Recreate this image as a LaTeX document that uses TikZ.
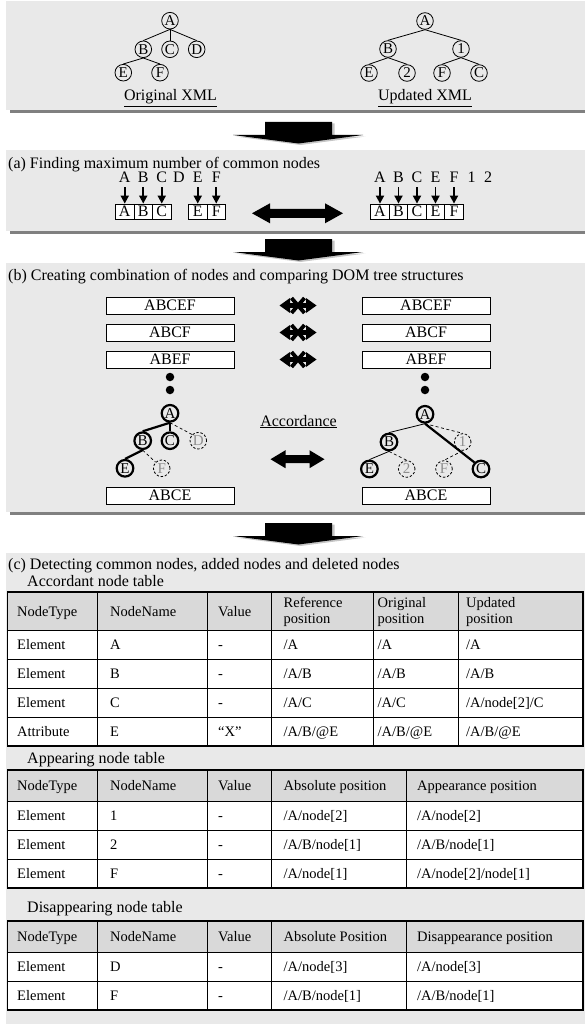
\documentclass[tikz,border=0pt]{standalone}
\usepackage{fontspec}
\setmainfont{Liberation Serif}
\usetikzlibrary{arrows.meta,calc}
\definecolor{panelgray}{HTML}{E9E9E9}
\definecolor{shadowgray}{HTML}{808080}
\definecolor{headgray}{HTML}{D9D9D9}
\definecolor{ghostgray}{HTML}{8E8E8E}
\newcommand\headfont{\fontsize{16}{18}\selectfont}
\newcommand\tabfont{\fontsize{14.5}{16}\selectfont}
\newcommand\treefont{\fontsize{15}{15}\selectfont}

\begin{document}
\begin{tikzpicture}[x=1pt,y=-1pt,
  heading/.style={anchor=base west, inner sep=0pt, font=\headfont},
  title/.style={anchor=base, inner sep=0pt, font=\headfont},
  tn/.style={circle, draw, line width=0.8pt, inner sep=0pt, minimum size=16.6pt, font=\treefont},
  tnbold/.style={tn, line width=2.2pt},
  tnghost/.style={tn, dash pattern=on 2.4pt off 1.8pt, text=ghostgray},
  edge/.style={line width=0.8pt},
  edgebold/.style={line width=2.2pt},
  edgeghost/.style={line width=0.7pt, dash pattern=on 3pt off 2.5pt},
  letter/.style={anchor=base, inner sep=0pt, font=\headfont},
  cellbox/.style={draw, fill=white, line width=0.8pt, minimum width=18.5pt, minimum height=15pt, inner sep=0pt, font=\headfont},
  downarr/.style={line width=1.8pt, -{Triangle[length=8pt,width=8pt]}, shorten <=4.5pt},
  combo/.style={draw, fill=white, line width=0.9pt, minimum width=128pt, minimum height=17pt, inner sep=0pt, font=\headfont},
  dot/.style={circle, fill, inner sep=0pt, minimum size=8.5pt},
  cell/.style={anchor=base west, inner sep=0pt, font=\tabfont},
  inner/.style={line width=0.7pt},
  outer/.style={line width=1.5pt},
  bigarrow/.pic={
    \fill[gray!45] (-31,1.5) -- (36,1.5) -- (36,14.5) -- (67,14.5) -- (2,23) -- (-63,14.5) -- (-31,14.5) -- cycle;
    \fill[black] (-33.5,0) -- (33.5,0) -- (33.5,13) -- (64.5,13) -- (0,21.5) -- (-65.5,13) -- (-33.5,13) -- cycle;
  },
  crossarrow/.pic={
    \fill[black] (-18.5,0) -- (-8,-7.5) -- (-8,-2.4) -- (8,-2.4) -- (8,-7.5) -- (18.5,0) -- (8,7.5) -- (8,2.4) -- (-8,2.4) -- (-8,7.5) -- cycle;
    \draw[line width=3.8pt] (-6.5,-7.5) -- (6.5,7.5) (-6.5,7.5) -- (6.5,-7.5);
  }
]
\useasboundingbox (0,0) rectangle (585,1030);

% ---------- panels ----------
\fill[panelgray] (6,1) rectangle (585,110);
\fill[shadowgray] (10,110) rectangle (585,113);
\fill[panelgray] (6,150) rectangle (585,231);
\fill[shadowgray] (10,231) rectangle (585,234);
\fill[panelgray] (6,263) rectangle (585,512);
\fill[shadowgray] (10,512) rectangle (585,515);
\fill[panelgray] (6,553) rectangle (585,1024);

% ---------- step arrows ----------
\pic at (298.5,122) {bigarrow};
\pic at (298.5,239) {bigarrow};
\pic at (298.5,523) {bigarrow};

% ---------- original and updated trees ----------
\node[tn] (oA) at (170,20.7) {A};
\node[tn] (oB) at (143.3,49.3) {B};
\node[tn] (oC) at (170,49.3) {C};
\node[tn] (oD) at (196.7,49.3) {D};
\node[tn] (oE) at (123.3,72.7) {E};
\node[tn] (oF) at (160,72.7) {F};
\draw[edge] (oA.south) -- (oB.north);
\draw[edge] (oA.south) -- (oC.north);
\draw[edge] (oA.south) -- (oD.north);
\draw[edge] (oB.south) -- (oE.north);
\draw[edge] (oB.south) -- (oF.north);
\node[title] (otitle) at (170.5,101) {\underline{Original XML}};

\node[tn] (uA) at (425,21) {A};
\node[tn] (uB) at (388,49) {B};
\node[tn] (u1) at (461,49) {1};
\node[tn] (uE) at (369,73) {E};
\node[tn] (u2) at (407,73) {2};
\node[tn] (uF) at (442,73) {F};
\node[tn] (uC) at (479,73) {C};
\draw[edge] (uA.south) -- (uB.north);
\draw[edge] (uA.south) -- (u1.north);
\draw[edge] (uB.south) -- (uE.north);
\draw[edge] (uB.south) -- (u2.north);
\draw[edge] (u1.south) -- (uF.north);
\draw[edge] (u1.south) -- (uC.north);
\node[title] (utitle) at (425,101) {\underline{Updated XML}};

% ---------- (a) common nodes ----------
\node[heading] (ha) at (8,168) {(a) Finding maximum number of common nodes};

\node[letter] (lA) at (124.75,182.5) {A};
\node[letter] (lB) at (143.25,182.5) {B};
\node[letter] (lC) at (161.75,182.5) {C};
\node[letter] (lD) at (179,182.5) {D};
\node[letter] (lE) at (197.75,182.5) {E};
\node[letter] (lF) at (216.25,182.5) {F};
\node[cellbox] (cA) at (124.75,211.5) {A};
\node[cellbox] (cB) at (143.25,211.5) {B};
\node[cellbox] (cC) at (161.75,211.5) {C};
\node[cellbox] (cE) at (197.75,211.5) {E};
\node[cellbox] (cF) at (216.25,211.5) {F};
\foreach \n in {A,B,C,E,F} \draw[downarr] (l\n) -- (c\n);

\node[letter] (rlA) at (380,182.5) {A};
\node[letter] (rlB) at (398.5,182.5) {B};
\node[letter] (rlC) at (417,182.5) {C};
\node[letter] (rlE) at (435.5,182.5) {E};
\node[letter] (rlF) at (454,182.5) {F};
\node[letter] (rl1) at (471.5,182.5) {1};
\node[letter] (rl2) at (488,182.5) {2};
\node[cellbox] (rcA) at (380,211.5) {A};
\node[cellbox] (rcB) at (398.5,211.5) {B};
\node[cellbox] (rcC) at (417,211.5) {C};
\node[cellbox] (rcE) at (435.5,211.5) {E};
\node[cellbox] (rcF) at (454,211.5) {F};
\foreach \n in {A,B,C,E,F} \draw[downarr] (rl\n) -- (rc\n);

% thick two-way arrow between the two node rows
\begin{scope}[shift={(297.5,213.3)}]
  \fill[black] (-45.5,0) -- (-27.5,-10) -- (-27.5,-4.5) -- (27.5,-4.5) -- (27.5,-10) -- (45.5,0)
    -- (27.5,10) -- (27.5,4.5) -- (-27.5,4.5) -- (-27.5,10) -- cycle;
\end{scope}

% ---------- (b) combinations ----------
\node[heading] (hb) at (8,280) {(b) Creating combination of nodes and comparing DOM tree structures};

\node[combo] (L1) at (170,305.5) {ABCEF};
\node[combo] (L2) at (170,332.5) {ABCF};
\node[combo] (L3) at (170,359.5) {ABEF};
\node[combo] (L4) at (170,495.5) {ABCE};
\node[combo] (R1) at (426,305.5) {ABCEF};
\node[combo] (R2) at (426,332.5) {ABCF};
\node[combo] (R3) at (426,359.5) {ABEF};
\node[combo] (R4) at (426,495.5) {ABCE};
\pic at ($(L1)!0.5!(R1)$) {crossarrow};
\pic at ($(L2)!0.5!(R2)$) {crossarrow};
\pic at ($(L3)!0.5!(R3)$) {crossarrow};

\node[dot] (ld1) at (170,377) {};
\node[dot] (ld2) at (170,390) {};
\node[dot] (rd1) at (425,377) {};
\node[dot] (rd2) at (425,390) {};

% matched subtree on the original side
\node[tnbold] (pA) at (170,413.3) {A};
\node[tnbold] (pB) at (142.7,440.7) {B};
\node[tnbold] (pC) at (170,440.7) {C};
\node[tnghost] (pD) at (198.3,440.7) {D};
\node[tnbold] (pE) at (125,468.3) {E};
\node[tnghost] (pF) at (161.7,468.3) {F};
\draw[edgebold] (pA.south) -- (pB.north);
\draw[edgebold] (pA.south) -- (pC.north);
\draw[edgeghost] (pA.south) -- (pD.north west);
\draw[edgebold] (pB.south) -- (pE.north);
\draw[edgeghost] (pB.south) -- (pF.north west);

% matched subtree on the updated side
\node[tnbold] (qA) at (425,414.3) {A};
\node[tnbold] (qB) at (389,442) {B};
\node[tnghost] (q1) at (462.7,442) {1};
\node[tnbold] (qE) at (369.4,469) {E};
\node[tnghost] (q2) at (406.7,469) {2};
\node[tnghost] (qF) at (444,469) {F};
\node[tnbold] (qC) at (481,469) {C};
\draw[edge] (qA.south) -- (qB.north);
\draw[edgeghost] (qA.south) -- (q1.north);
\draw[edge] (qB.south) -- (qE.north);
\draw[edgeghost] (qB.south) -- (q2.north);
\draw[edgeghost] (q1.south) -- (qF.north);
\draw[edgebold] (qA.south) -- (qC.north west);

\node[title] (acc) at (298.5,426) {\underline{Accordance}};
\begin{scope}[shift={(297.5,459.2)}]
  \fill[black] (-27,0) -- (-12,-9) -- (-12,-4) -- (12,-4) -- (12,-9) -- (27,0)
    -- (12,9) -- (12,4) -- (-12,4) -- (-12,9) -- cycle;
\end{scope}

% ---------- (c) tables ----------
\node[heading] (hc) at (8,569) {(c) Detecting common nodes, added nodes and deleted nodes};

% accordant node table
\node[heading] (cap1) at (27,586) {Accordant node table};
\fill[headgray] (7.5,592) rectangle (583,630);
\fill[white] (7.5,630) rectangle (583,746);
\draw[inner] (7.5,630) -- (583,630) (7.5,659) -- (583,659) (7.5,688) -- (583,688) (7.5,717) -- (583,717);
\draw[inner] (97.8,592) -- (97.8,746) (207,592) -- (207,746) (271.3,592) -- (271.3,746)
  (373,592) -- (373,746) (458,592) -- (458,746);
\draw[outer] (7.5,592) rectangle (583,746);
\node[cell] (t1h1) at (17,616) {NodeType};
\node[cell] (t1h2) at (110,616) {NodeName};
\node[cell] (t1h3) at (218,616) {Value};
\node[cell] (t1h4a) at (283.5,607) {Reference};
\node[cell] (t1h4b) at (283.5,623) {position};
\node[cell] (t1h5a) at (377.5,607) {Original};
\node[cell] (t1h5b) at (377.5,623) {position};
\node[cell] (t1h6a) at (466,607) {Updated};
\node[cell] (t1h6b) at (466,623) {position};

\node[cell] (t1a1) at (17,649.5) {Element};
\node[cell] (t1a2) at (110,649.5) {A};
\node[cell] (t1a3) at (218,649.5) {-};
\node[cell] (t1a4) at (283.5,649.5) {/A};
\node[cell] (t1a5) at (377.5,649.5) {/A};
\node[cell] (t1a6) at (466,649.5) {/A};

\node[cell] (t1b1) at (17,678.5) {Element};
\node[cell] (t1b2) at (110,678.5) {B};
\node[cell] (t1b3) at (218,678.5) {-};
\node[cell] (t1b4) at (283.5,678.5) {/A/B};
\node[cell] (t1b5) at (377.5,678.5) {/A/B};
\node[cell] (t1b6) at (466,678.5) {/A/B};

\node[cell] (t1c1) at (17,707.5) {Element};
\node[cell] (t1c2) at (110,707.5) {C};
\node[cell] (t1c3) at (218,707.5) {-};
\node[cell] (t1c4) at (283.5,707.5) {/A/C};
\node[cell] (t1c5) at (377.5,707.5) {/A/C};
\node[cell] (t1c6) at (466,707.5) {/A/node[2]/C};

\node[cell] (t1d1) at (17,736.5) {Attribute};
\node[cell] (t1d2) at (110,736.5) {E};
\node[cell] (t1d3) at (218,736.5) {“X”};
\node[cell] (t1d4) at (283.5,736.5) {/A/B/@E};
\node[cell] (t1d5) at (377.5,736.5) {/A/B/@E};
\node[cell] (t1d6) at (466,736.5) {/A/B/@E};

% appearing node table
\node[heading] (cap2) at (27,763) {Appearing node table};
\fill[headgray] (7.5,770) rectangle (583,801);
\fill[white] (7.5,801) rectangle (583,888);
\draw[inner] (7.5,801) -- (583,801) (7.5,830) -- (583,830) (7.5,859) -- (583,859);
\draw[inner] (97.8,770) -- (97.8,888) (207,770) -- (207,888) (271.3,770) -- (271.3,888) (406.7,770) -- (406.7,888);
\draw[outer] (7.5,770) rectangle (583,888);
\node[cell] (t2h1) at (17,790.5) {NodeType};
\node[cell] (t2h2) at (110,790.5) {NodeName};
\node[cell] (t2h3) at (218,790.5) {Value};
\node[cell] (t2h4) at (283.5,790.5) {Absolute position};
\node[cell] (t2h5) at (417,790.5) {Appearance position};

\node[cell] (t2a1) at (17,820.5) {Element};
\node[cell] (t2a2) at (110,820.5) {1};
\node[cell] (t2a3) at (218,820.5) {-};
\node[cell] (t2a4) at (283.5,820.5) {/A/node[2]};
\node[cell] (t2a5) at (417,820.5) {/A/node[2]};

\node[cell] (t2b1) at (17,849.5) {Element};
\node[cell] (t2b2) at (110,849.5) {2};
\node[cell] (t2b3) at (218,849.5) {-};
\node[cell] (t2b4) at (283.5,849.5) {/A/B/node[1]};
\node[cell] (t2b5) at (417,849.5) {/A/B/node[1]};

\node[cell] (t2c1) at (17,878.5) {Element};
\node[cell] (t2c2) at (110,878.5) {F};
\node[cell] (t2c3) at (218,878.5) {-};
\node[cell] (t2c4) at (283.5,878.5) {/A/node[1]};
\node[cell] (t2c5) at (417,878.5) {/A/node[2]/node[1]};

% disappearing node table
\node[heading] (cap3) at (27,912) {Disappearing node table};
\fill[headgray] (7.5,921) rectangle (583,952);
\fill[white] (7.5,952) rectangle (583,1010);
\draw[inner] (7.5,952) -- (583,952) (7.5,981) -- (583,981);
\draw[inner] (97.8,921) -- (97.8,1010) (207,921) -- (207,1010) (271.3,921) -- (271.3,1010) (406.7,921) -- (406.7,1010);
\draw[outer] (7.5,921) rectangle (583,1010);
\node[cell] (t3h1) at (17,941.5) {NodeType};
\node[cell] (t3h2) at (110,941.5) {NodeName};
\node[cell] (t3h3) at (218,941.5) {Value};
\node[cell] (t3h4) at (283.5,941.5) {Absolute Position};
\node[cell] (t3h5) at (417,941.5) {Disappearance position};

\node[cell] (t3a1) at (17,971.5) {Element};
\node[cell] (t3a2) at (110,971.5) {D};
\node[cell] (t3a3) at (218,971.5) {-};
\node[cell] (t3a4) at (283.5,971.5) {/A/node[3]};
\node[cell] (t3a5) at (417,971.5) {/A/node[3]};

\node[cell] (t3b1) at (17,1000.5) {Element};
\node[cell] (t3b2) at (110,1000.5) {F};
\node[cell] (t3b3) at (218,1000.5) {-};
\node[cell] (t3b4) at (283.5,1000.5) {/A/B/node[1]};
\node[cell] (t3b5) at (417,1000.5) {/A/B/node[1]};
\end{tikzpicture}
\end{document}
